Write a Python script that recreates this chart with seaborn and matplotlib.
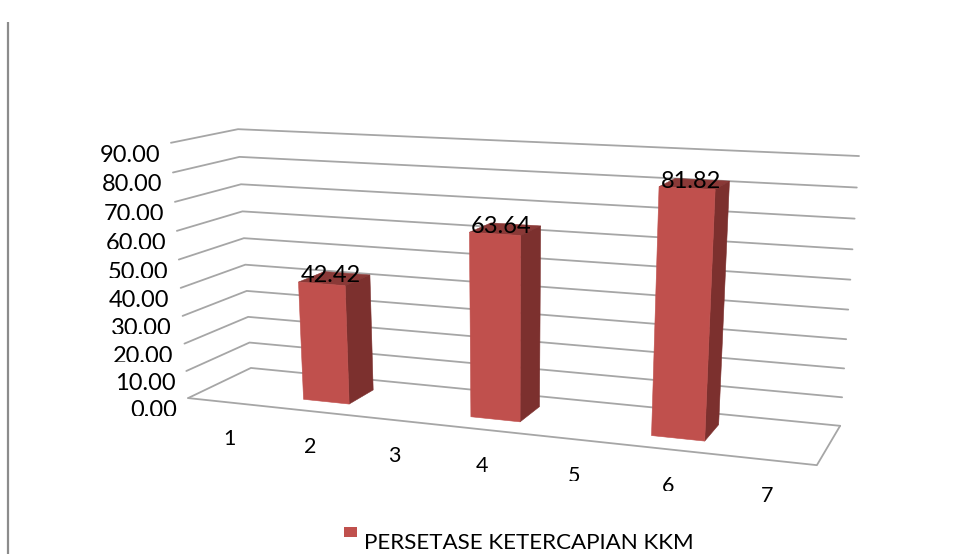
import numpy as np
import pandas as pd
import matplotlib
matplotlib.use("Agg")
import matplotlib.pyplot as plt
from matplotlib.transforms import Bbox
import seaborn as sns

# Chart data
categories = [1, 2, 3, 4, 5, 6, 7]
bar_categories = [2, 4, 6]
bar_values = [42.42, 63.64, 81.82]
value_labels = ["42.42", "63.64", "81.82"]
axis_ticks = [0, 10, 20, 30, 40, 50, 60, 70, 80, 90]
series_name = "PERSETASE KETERCAPIAN KKM"

sns.set_theme(style="white")
plt.rcParams["font.family"] = ["Lato", "DejaVu Sans"]

FRONT = "#C0504D"
SIDE = "#7C302E"
TOP = "#8A3937"
GRID = "#A6A6A6"
TEXT = "#000000"
HEIGHT = 554

# Camera: maps (category position, value, depth) to canvas pixels, solved
# from the corners of the chart box.
world = [(0, 0, 0), (7, 0, 0), (7, 0, 1), (0, 0, 1), (0, 90, 1), (7, 90, 1), (0, 90, 0)]
canvas = [(188, 398), (817, 465), (840, 426), (251, 368), (238, 129), (859, 156), (171, 143)]
rows, rhs = [], []
for (X, Y, Z), (u, v) in zip(world, canvas):
    rows.append([X, Y, Z, 1, 0, 0, 0, 0, -u * X, -u * Y, -u * Z])
    rhs.append(u)
    rows.append([0, 0, 0, 0, X, Y, Z, 1, -v * X, -v * Y, -v * Z])
    rhs.append(v)
cam = np.append(np.linalg.lstsq(np.array(rows, float), np.array(rhs, float), rcond=None)[0], 1).reshape(3, 4)


def project(x, y, z):
    p = cam @ np.array([x, y, z, 1.0])
    return p[0] / p[2], p[1] / p[2]


def trim_bottom(label, baseline, cut=1.0):
    # Cut the lower edge of a label off, as its text box is slightly too short
    keep = HEIGHT - (baseline - cut)
    label.set_clip_box(Bbox.from_extents(0, keep, 954, HEIGHT))
    label.set_clip_on(True)


fig = plt.figure(figsize=(9.54, 5.54), dpi=100, facecolor="white")
ax = fig.add_axes([0, 0, 1, 1])

# Frame rule on the left of the canvas
ax.plot([8, 8], [22, 554], color="#8C8C8C", lw=1.6, solid_capstyle="butt", zorder=1)

# Gridlines along the side and back walls, plus the floor outline
segments = []
for tick in axis_ticks:
    path = [project(0, tick, 0), project(0, tick, 1), project(7, tick, 1)]
    segments += [(f"t{tick}", i, *pt) for i, pt in enumerate(path)]
floor = [project(0, 0, 0), project(7, 0, 0), project(7, 0, 1)]
segments += [("floor", i, *pt) for i, pt in enumerate(floor)]
grid_df = pd.DataFrame(segments, columns=["line", "order", "px", "py"])
sns.lineplot(data=grid_df, x="px", y="py", units="line", estimator=None, sort=False,
             color=GRID, lw=1.3, ax=ax, zorder=2, legend=False)
ax.set_xlim(0, 954)
ax.set_ylim(HEIGHT, 0)
ax.axis("off")

# Bars as three visible faces of a box
half_w, shift, z0, z1 = 0.28, 0.01, 0.28, 0.72
for cat, val, lab in zip(bar_categories, bar_values, value_labels):
    c = cat - 0.5 + shift
    l, r = c - half_w, c + half_w
    front = [project(l, 0, z0), project(r, 0, z0), project(r, val, z0), project(l, val, z0)]
    side = [project(r, 0, z0), project(r, 0, z1), project(r, val, z1), project(r, val, z0)]
    top = [project(l, val, z0), project(r, val, z0), project(r, val, z1), project(l, val, z1)]
    for face, col in ((top, TOP), (side, SIDE), (front, FRONT)):
        ax.fill(*zip(*face), color=col, lw=0.4, zorder=3)
    lx, ly = project(c, val, (z0 + z1) / 2)
    ax.text(lx - 4, ly + 4, lab, ha="center", va="baseline", fontsize=17, color=TEXT, zorder=4)

# Value axis labels sit beside the front edge of the side wall
for tick in axis_ticks:
    px, py = project(0, tick, 0)
    baseline = py + 19
    t = ax.text(px - 11, baseline, f"{tick:.2f}", ha="right", va="baseline", fontsize=17, color=TEXT)
    if tick in (0, 20, 30, 50, 60, 70):
        trim_bottom(t, baseline)

# Category labels below the front edge of the floor
for i, cat in enumerate(categories):
    px, py = project(i + 0.5, 0, 0)
    baseline = py + 42.5
    t = ax.text(px + 1.5, baseline, str(cat), ha="center", va="baseline", fontsize=15.5, color=TEXT)
    if cat in (5, 6):
        trim_bottom(t, baseline)

# Legend
ax.fill([344, 357, 357, 344], [527, 527, 537, 537], color=FRONT, lw=0)
ax.text(364, 549, series_name, ha="left", va="baseline", fontsize=16.1, color=TEXT)

fig.savefig("out.png", dpi=100, facecolor="white")
